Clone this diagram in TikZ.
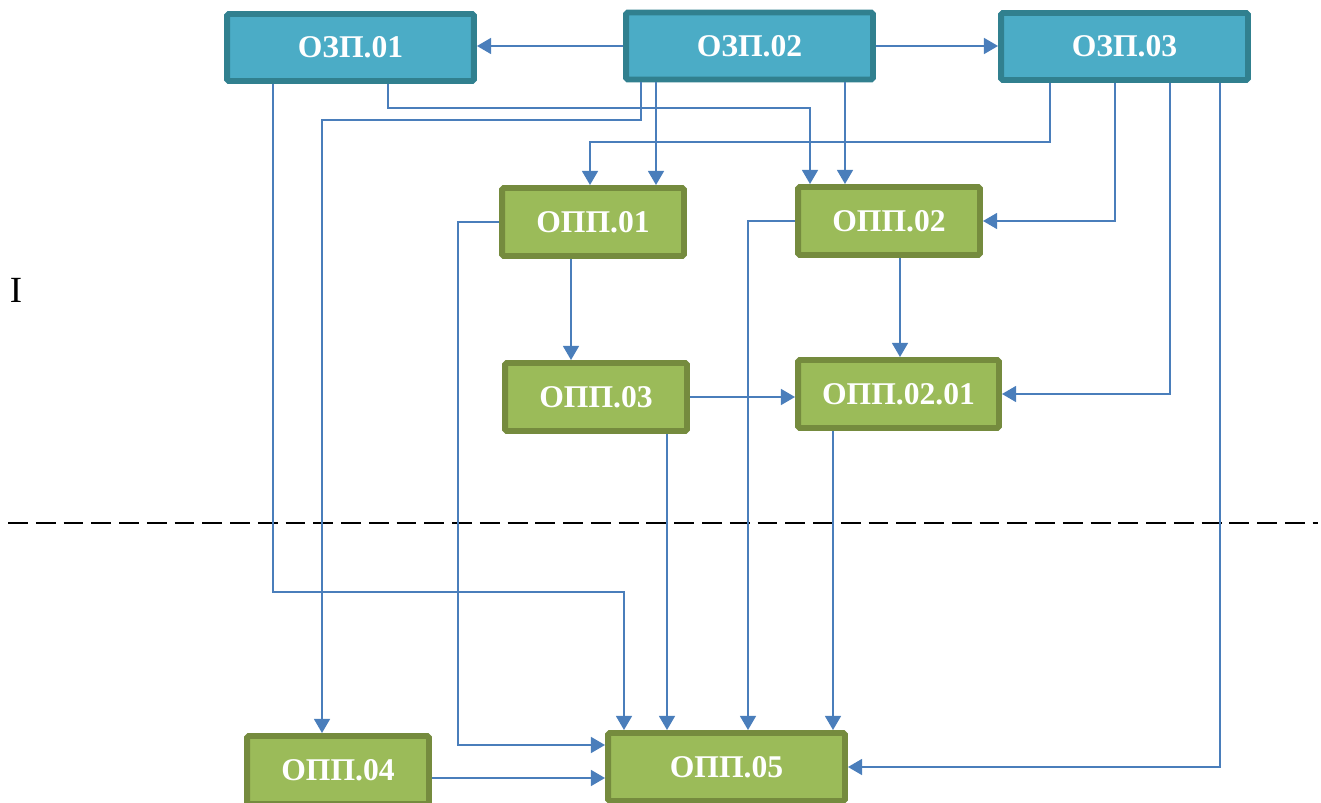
\documentclass[tikz,border=0pt]{standalone}
\usepackage{fontspec}
\setmainfont{Liberation Serif}
\usetikzlibrary{arrows.meta}
\definecolor{zfill}{HTML}{4BACC6}
\definecolor{zline}{HTML}{31808F}
\definecolor{pfill}{HTML}{9BBB59}
\definecolor{pline}{HTML}{758B3E}
\definecolor{linkblue}{HTML}{4A7EBB}

\begin{document}
\begin{tikzpicture}[x=0.02cm,y=-0.02cm,
  box/.style={line width=3.4pt,rounded corners=1pt,text=white,inner sep=0pt,
    font=\fontsize{18}{20}\selectfont\bfseries,minimum height=1.36cm},
  zbox/.style={box,draw=zline,fill=zfill,minimum width=4.94cm,minimum height=1.34cm},
  pbox/.style={box,draw=pline,fill=pfill,minimum width=3.64cm},
  link/.style={draw=linkblue,line width=1.1pt,-{Triangle[length=8pt,width=9pt]}}]

\useasboundingbox (0,0) rectangle (1321,803);

\draw[line width=0.9pt,dash pattern=on 11.3pt off 4.5pt] (8,523) -- (1318,523);

\node[font=\fontsize{21}{24}\selectfont] (lvl) at (16,290) {I};

\node[zbox] (z1) at (350.5,47.5) {ОЗП.01};
\node[zbox] (z2) at (749.5,46) {ОЗП.02};
\node[zbox] (z3) at (1124.5,46.5) {ОЗП.03};
\node[pbox] (p1) at (593,222) {ОПП.01};
\node[pbox] (p2) at (889,221) {ОПП.02};
\node[pbox] (p3) at (596,397) {ОПП.03};
\node[pbox,minimum width=4.02cm] (p21) at (898.5,394) {ОПП.02.01};
\node[pbox] (p4) at (338,770) {ОПП.04};
\node[pbox,minimum width=4.74cm] (p5) at (726.5,767) {ОПП.05};

\draw[link] (z2.west) -- (z1.east |- z2.west);
\draw[link] (z2.east) -- (z3.west |- z2.east);
\draw[link] (273,0 |- z1.south) |- (624,592) -- (624,0 |- p5.north);
\draw[link] (388,0 |- z1.south) |- (810,108) -- (810,0 |- p2.north);
\draw[link] (641,0 |- z2.south) |- (322,120) -- (322,0 |- p4.north);
\draw[link] (656,0 |- z2.south) -- (656,0 |- p1.north);
\draw[link] (845,0 |- z2.south) -- (845,0 |- p2.north);
\draw[link] (1050,0 |- z3.south) |- (590,142) -- (590,0 |- p1.north);
\draw[link] (1115,0 |- z3.south) |- (p2.east);
\draw[link] (1170,0 |- z3.south) |- (p21.east);
\draw[link] (1220,0 |- z3.south) |- (p5.east);
\draw[link] (p1.west) -| (458,745) -- (p5.west |- 0,745);
\draw[link] (p2.west) -| (748,0 |- p5.north);
\draw[link] (571,0 |- p1.south) -- (571,0 |- p3.north);
\draw[link] (900,0 |- p2.south) -- (900,0 |- p21.north);
\draw[link] (p3.east) -- (p21.west |- p3.east);
\draw[link] (667,0 |- p3.south) -- (667,0 |- p5.north);
\draw[link] (833,0 |- p21.south) -- (833,0 |- p5.north);
\draw[link] (p4.east |- 0,778) -- (p5.west |- 0,778);

\end{tikzpicture}
\end{document}
